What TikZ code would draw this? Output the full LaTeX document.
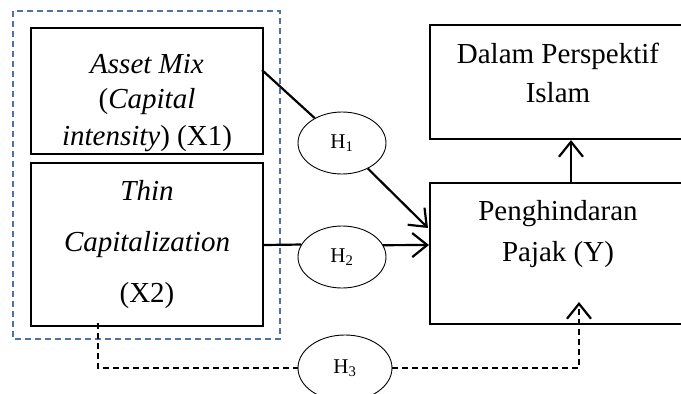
\documentclass[tikz,border=0pt]{standalone}
\usepackage{fontspec}
\setmainfont{Liberation Serif}
\usetikzlibrary{arrows.meta,shapes.geometric}
\definecolor{grpblue}{RGB}{78,114,164}
\tikzset{
  box/.style={draw=black, line width=2pt, inner sep=0pt},
  hyp/.style={draw=black, line width=0.9pt, ellipse, inner sep=0pt, font=\fontsize{21}{24}\selectfont},
  txt/.style={anchor=base, inner sep=0pt, font=\fontsize{29}{35}\selectfont},
  conn/.style={line width=2.2pt, draw=black},
  tip/.style={-{Straight Barb[length=15pt,width=24pt,line width=2.2pt]}},
  dconn/.style={line width=2pt, draw=black, dash pattern=on 6pt off 4pt},
  grp/.style={draw=grpblue, line width=1.6pt, dash pattern=on 6pt off 4pt}
}
\begin{document}
\begin{tikzpicture}[x=1pt,y=-1pt]
\useasboundingbox (0,0) rectangle (681,394);
% group box
\draw[grp] (13,11) rectangle (280,339);
% boxes
\node[box, minimum width=232pt, minimum height=126pt] (x1) at (147,91) {};
\node[box, minimum width=232pt, minimum height=163pt] (x2) at (147,244.5) {};
\node[box, minimum width=256pt, minimum height=114pt] (d) at (558,82) {};
\node[box, minimum width=256pt, minimum height=141pt] (y) at (558,253.5) {};
% texts
\begin{scope}
\clip (31,28) rectangle (263,151.5);
\node[txt] (t11) at (147,73) {\itshape Asset Mix};
\node[txt] (t12) at (147,108) {(\textit{Capital}};
\node[txt] (t13) at (147,145) {\textit{intensity}) (X1)};
\end{scope}
\node[txt] (t21) at (147,200) {\itshape Thin};
\node[txt] (t22) at (147,251) {\itshape Capitalization};
\node[txt] (t23) at (147,302) {(X2)};
\node[txt] (t31) at (558,63) {Dalam Perspektif};
\node[txt] (t32) at (558,102) {Islam};
\node[txt] (t41) at (558,220) {Penghindaran};
\node[txt] (t42) at (558,261) {Pajak (Y)};
% hypotheses
\node[hyp, minimum width=88pt, minimum height=62pt] (h1) at (342,143) {H\textsubscript{1}};
\node[hyp, minimum width=88pt, minimum height=62pt] (h2) at (342,257) {H\textsubscript{2}};
\node[hyp, minimum width=94pt, minimum height=66pt] (h3) at (345,368) {H\textsubscript{3}};
% connectors
\coordinate (a1) at (262,70);
\coordinate (e1) at (428,228);
\draw[conn] (a1) -- (h1);
\draw[conn, tip] (h1) -- (e1);
\coordinate (a2) at (x2.east |- 0,245);
\coordinate (e2) at (y.west |- 0,245);
\draw[conn] (a2) -- (h2.163.5);
\draw[conn, tip] (h2.16.5) -- (e2);
\coordinate (a3) at (98,323);
\coordinate (b3) at (98,368);
\coordinate (c3) at (579,368);
\coordinate (e3) at (579,302);
\draw[dconn] (a3) -- (b3) -- (h3.west);
\draw[dconn, tip] (h3.east) -- (c3) -- (e3);
\draw[conn, tip] (y.north -| 571,0) -- (d.south -| 571,0);
\end{tikzpicture}
\end{document}
